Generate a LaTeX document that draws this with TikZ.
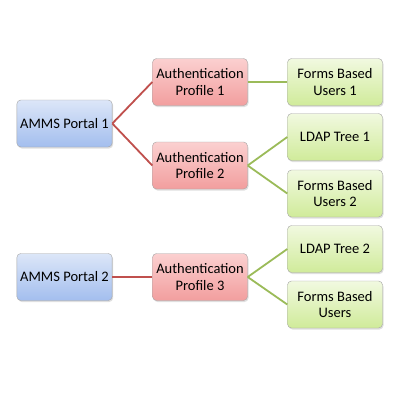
\documentclass[tikz,border=0pt]{standalone}
\usepackage{fontspec}
\setmainfont{Carlito}
\usetikzlibrary{shadows}
\definecolor{portaltop}{HTML}{DCE6F8}
\definecolor{portalbot}{HTML}{A3BEEE}
\definecolor{authtop}{HTML}{FBD0D0}
\definecolor{authbot}{HTML}{F29E9E}
\definecolor{usertop}{HTML}{F1F9E0}
\definecolor{userbot}{HTML}{D0EB9A}
\definecolor{redline}{HTML}{C0504D}
\definecolor{greenline}{HTML}{9BBB59}
\tikzset{box/.style={draw=black!35,rounded corners=4pt,minimum width=95pt,
    minimum height=47pt,align=center,font=\fontsize{14.5}{16.8}\selectfont,
    drop shadow={opacity=0.25,shadow xshift=1pt,shadow yshift=-1.5pt}}}
\tikzset{portal/.style={box,top color=portaltop,bottom color=portalbot}}
\tikzset{auth/.style={box,top color=authtop,bottom color=authbot}}
\tikzset{users/.style={box,top color=usertop,bottom color=userbot}}
\tikzset{redlink/.style={draw=redline,line width=1.8pt}}
\tikzset{greenlink/.style={draw=greenline,line width=1.8pt}}
\begin{document}
\begin{tikzpicture}[x=1pt,y=-1pt]
        \useasboundingbox[fill=white] (0,0) rectangle (400,400);

        \node[portal] (pt1) at (64.5,123.5) {AMMS Portal 1};
        \node[portal] (pt2) at (64.5,277) {AMMS Portal 2};
        \node[auth] (ap1) at (200,82) {Authentication\\Profile 1};
        \node[auth] (ap2) at (200,165.5) {Authentication\\Profile 2};
        \node[auth] (ap3) at (200,277) {Authentication\\Profile 3};
        \node[users] (fb1) at (335,82) {Forms Based\\Users 1};
        \node[users] (ld1) at (335,137) {LDAP Tree 1};
        \node[users] (fb2) at (335,193.5) {Forms Based\\Users 2};
        \node[users] (ld2) at (335,249) {LDAP Tree 2};
        \node[users] (fb3) at (335,304.5) {Forms Based\\Users};

        \draw[redlink] (pt1.east) -- (ap1.west);
        \draw[redlink] (pt1.east) -- (ap2.west);
        \draw[redlink] (pt2.east) -- (ap3.west);
        \draw[greenlink] (ap1.east) -- (fb1.west);
        \draw[greenlink] (ap2.east) -- (ld1.west);
        \draw[greenlink] (ap2.east) -- (fb2.west);
        \draw[greenlink] (ap3.east) -- (ld2.west);
        \draw[greenlink] (ap3.east) -- (fb3.west);
    \end{tikzpicture}
\end{document}
